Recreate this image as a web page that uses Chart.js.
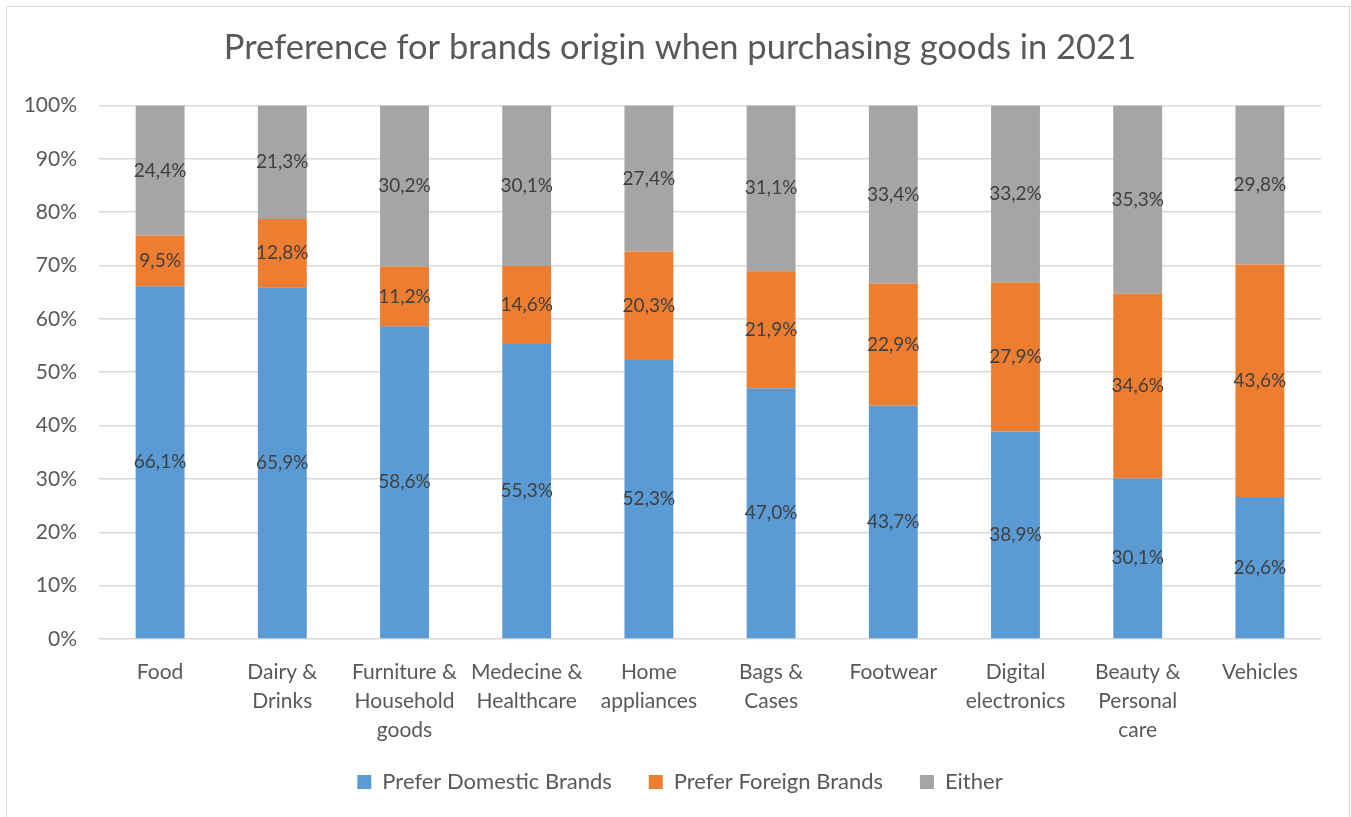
<!DOCTYPE html>
<html>
<head>
<meta charset="utf-8">
<title>Preference for brands origin</title>
<script src="https://cdn.jsdelivr.net/npm/chart.js@4/dist/chart.umd.min.js"></script>
<style>
  html, body { margin: 0; padding: 0; background: #fff; overflow: hidden; }
  #wrap { position: absolute; left: 0; top: 0; width: 1351px; height: 817px; overflow: hidden; }
  #chart { position: absolute; left: 0; top: 0; }
  #frame { position: absolute; left: 6px; top: 6px; width: 1342px; height: 830px; border: 1px solid #d9d9d9; pointer-events: none; }
</style>
</head>
<body>
<div id="wrap"><canvas id="chart" width="1391" height="817"></canvas></div>
<div id="frame"></div>
<script>
// chart data
var categories = [
  ['Food'],
  ['Dairy &', 'Drinks'],
  ['Furniture &', 'Household', 'goods'],
  ['Medecine &', 'Healthcare'],
  ['Home', 'appliances'],
  ['Bags &', 'Cases'],
  ['Footwear'],
  ['Digital', 'electronics'],
  ['Beauty &', 'Personal', 'care'],
  ['Vehicles']
];
var domestic = [66.1, 65.9, 58.6, 55.3, 52.3, 47.0, 43.7, 38.9, 30.1, 26.6];
var foreign = [9.5, 12.8, 11.2, 14.6, 20.3, 21.9, 22.9, 27.9, 34.6, 43.6];
var either = [24.4, 21.3, 30.2, 30.1, 27.4, 31.1, 33.4, 33.2, 35.3, 29.8];
var yTicks = [0, 10, 20, 30, 40, 50, 60, 70, 80, 90, 100];

var FONT = 'Lato, "Open Sans", sans-serif';

function fmt(v) {
  return v.toFixed(1).replace('.', ',') + '%';
}

// draws the value in the middle of each stacked segment
var segmentLabels = {
  id: 'segmentLabels',
  afterDatasetsDraw: function (chart) {
    var ctx = chart.ctx;
    ctx.save();
    ctx.font = '19px ' + FONT;
    ctx.fillStyle = '#404040';
    ctx.textAlign = 'center';
    ctx.textBaseline = 'middle';
    chart.data.datasets.forEach(function (ds, i) {
      var meta = chart.getDatasetMeta(i);
      meta.data.forEach(function (bar, j) {
        var y = (bar.y + bar.base) / 2;
        ctx.fillText(fmt(ds.data[j]), bar.x, y);
      });
    });
    ctx.restore();
  }
};

new Chart(document.getElementById('chart'), {
  type: 'bar',
  data: {
    labels: categories,
    datasets: [
      { label: 'Prefer Domestic Brands', data: domestic, backgroundColor: '#5B9BD5' },
      { label: 'Prefer Foreign Brands', data: foreign, backgroundColor: '#ED7D31' },
      { label: 'Either', data: either, backgroundColor: '#A5A5A5' }
    ]
  },
  plugins: [segmentLabels],
  options: {
    responsive: false,
    animation: false,
    devicePixelRatio: 1,
    // canvas is 40px wider than the page so title and legend centre a bit right of the plot
    layout: { padding: { left: 0, right: 31, top: 0, bottom: 14 } },
    datasets: { bar: { barPercentage: 0.4, categoryPercentage: 1 } },
    plugins: {
      title: {
        display: true,
        text: 'Preference for brands origin when purchasing goods in 2021',
        color: '#595959',
        font: { family: FONT, size: 34.5, weight: 'normal' },
        padding: { top: 27, bottom: 37 }
      },
      legend: {
        position: 'bottom',
        labels: {
          color: '#595959',
          font: { family: FONT, size: 22 },
          boxWidth: 14,
          boxHeight: 14,
          padding: 20,
          generateLabels: function (chart) {
            var items = Chart.defaults.plugins.legend.labels.generateLabels(chart);
            // a little extra room between entries
            items.forEach(function (it, i) {
              if (i < items.length - 1) it.text += '   ';
            });
            return items;
          }
        }
      },
      tooltip: { enabled: false }
    },
    scales: {
      x: {
        stacked: true,
        grid: { display: false },
        border: { display: false },
        ticks: {
          color: '#595959',
          font: { family: FONT, size: 21, lineHeight: '29px' },
          padding: 11,
          maxRotation: 0,
          autoSkip: false
        },
        afterFit: function (scale) { scale.height = 112; }
      },
      y: {
        stacked: true,
        min: 0,
        max: 100,
        afterBuildTicks: function (scale) {
          scale.ticks = yTicks.map(function (v) { return { value: v }; });
        },
        grid: { color: '#d9d9d9', lineWidth: 1.5, drawTicks: false },
        border: { display: false },
        ticks: {
          color: '#595959',
          font: { family: FONT, size: 21 },
          padding: 22,
          callback: function (v) { return v + '%'; }
        },
        afterFit: function (scale) { scale.width = 99; }
      },
      // empty spacer on the right
      spacer: {
        type: 'linear',
        position: 'right',
        grid: { display: false },
        border: { display: false },
        ticks: { display: false },
        afterFit: function (scale) { scale.width = 39; }
      }
    }
  }
});
</script>
</body>
</html>
